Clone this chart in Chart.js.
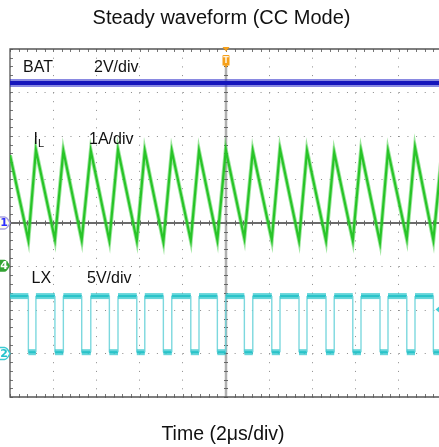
<!DOCTYPE html>
<html>
<head>
<meta charset="utf-8">
<script src="https://cdn.jsdelivr.net/npm/chart.js@4.4.0/dist/chart.umd.min.js"></script>
<style>
  html, body { margin: 0; padding: 0; background: #fff; overflow: hidden; }
  #wrap { position: relative; width: 446px; height: 447px; }
</style>
</head>
<body>
<div id="wrap"><canvas id="scope" width="446" height="447"></canvas></div>
<script>
// time in µs (2 µs/div, trigger at 0), levels in screen divisions (centre = 0)
const valleyTimes  = [-9.15, -7.92, -6.68, -5.40, -4.13, -2.90, -1.63, -0.40, 0.85, 2.12, 3.38, 4.63, 5.87, 7.13, 8.37, 9.60];
const valleyLevels = [-0.39, -0.38, -0.39, -0.40, -0.40, -0.43, -0.40, -0.39, -0.35, -0.39, -0.40, -0.40, -0.40, -0.45, -0.36, -0.39];
const peakTimes    = [-8.80, -7.53, -6.26, -5.00, -3.76, -2.51, -1.25, -0.01, 1.24, 2.50, 3.75, 5.01, 6.25, 7.50, 8.75];
const peakLevels   = [1.68, 1.66, 1.66, 1.68, 1.66, 1.66, 1.66, 1.68, 1.66, 1.70, 1.66, 1.62, 1.66, 1.66, 1.74];
const ilStart = [-10.0, 1.56];
const ilEnd = [10.0, 1.64];

const batTimes = [-10, 10];
const batLevels = [3.22, 3.22];

const lxHigh = -1.68;
const lxLow = -2.97;

// channel reference markers / trigger level (divisions)
const refCh1 = 0;
const refCh4 = -0.98;
const refCh2 = -3.0;
const trigLevel = -1.99;

const channelLabels = [
  { name: 'BAT', scale: '2V/div', level: 3.48 },
  { name: 'I', sub: 'L', scale: '1A/div', level: 1.81 },
  { name: 'LX', scale: '5V/div', level: -1.39 }
];

const batPoints = batTimes.map((t, i) => ({ x: t, y: batLevels[i] }));

const ilPoints = [{ x: ilStart[0], y: ilStart[1] }];
valleyTimes.forEach((t, i) => {
  ilPoints.push({ x: t, y: valleyLevels[i] });
  if (i < peakTimes.length) ilPoints.push({ x: peakTimes[i], y: peakLevels[i] });
});
ilPoints.push({ x: ilEnd[0], y: ilEnd[1] });

// LX falls at each current valley and rises at each peak
const lxPoints = [{ x: -10, y: lxHigh }];
valleyTimes.forEach((t, i) => {
  lxPoints.push({ x: t, y: lxHigh }, { x: t, y: lxLow });
  if (i < peakTimes.length) lxPoints.push({ x: peakTimes[i], y: lxLow }, { x: peakTimes[i], y: lxHigh });
});
lxPoints.push({ x: 10, y: lxLow });

const isEdge = c => Math.abs(c.p0.x - c.p1.x) < 0.5;

function tab(ctx, cy, fill, stroke, text, textColor) {
  ctx.beginPath();
  ctx.moveTo(-4, cy - 6);
  ctx.lineTo(4.5, cy - 6);
  ctx.quadraticCurveTo(7, cy - 6, 10, cy);
  ctx.quadraticCurveTo(7, cy + 6, 4.5, cy + 6);
  ctx.lineTo(-4, cy + 6);
  ctx.closePath();
  ctx.fillStyle = fill;
  ctx.fill();
  if (stroke) { ctx.strokeStyle = stroke; ctx.lineWidth = 1.4; ctx.stroke(); }
  ctx.fillStyle = textColor;
  ctx.font = 'bold 11px "DejaVu Sans", sans-serif';
  ctx.textAlign = 'center';
  ctx.textBaseline = 'middle';
  ctx.fillText(text, 4, cy + 0.5);
}

const scopeFrame = {
  id: 'scopeFrame',
  beforeDatasetsDraw(chart) {
    const { ctx, chartArea: a, scales: { x, y } } = chart;
    const x0 = x.getPixelForValue(0);
    const y0 = y.getPixelForValue(0);
    ctx.save();
    // minor ticks inside the frame, 5 per division
    ctx.strokeStyle = '#777';
    ctx.lineWidth = 1;
    ctx.beginPath();
    for (let v = -10; v <= 10.001; v += 0.4) {
      const px = Math.round(x.getPixelForValue(v)) + 0.5;
      ctx.moveTo(px, a.top); ctx.lineTo(px, a.top + 3);
      ctx.moveTo(px, a.bottom); ctx.lineTo(px, a.bottom - 3);
    }
    for (let v = -4; v <= 4.001; v += 0.2) {
      const py = Math.round(y.getPixelForValue(v)) + 0.5;
      ctx.moveTo(a.left, py); ctx.lineTo(a.left + 3, py);
      ctx.moveTo(a.right, py); ctx.lineTo(a.right - 3, py);
    }
    ctx.stroke();

    // trigger position line
    ctx.strokeStyle = '#b0b0b0';
    ctx.lineWidth = 2.5;
    ctx.beginPath();
    ctx.moveTo(x0, 67); ctx.lineTo(x0, a.bottom);
    ctx.stroke();
    // ch1 reference line
    ctx.strokeStyle = '#6b6b6b';
    ctx.lineWidth = 2;
    ctx.beginPath();
    ctx.moveTo(a.left, y0); ctx.lineTo(a.right, y0);
    ctx.stroke();

    // ticks along centre lines
    ctx.strokeStyle = '#666';
    ctx.lineWidth = 1;
    ctx.beginPath();
    for (let v = -10; v <= 10.001; v += 0.4) {
      const px = Math.round(x.getPixelForValue(v)) + 0.5;
      ctx.moveTo(px, y0 - 2.5); ctx.lineTo(px, y0 + 2.5);
    }
    for (let v = -4; v <= 4.001; v += 0.2) {
      const py = Math.round(y.getPixelForValue(v)) + 0.5;
      ctx.moveTo(x0 - 2, py); ctx.lineTo(x0 + 2, py);
    }
    ctx.stroke();

    // frame
    ctx.strokeStyle = '#555';
    ctx.lineWidth = 1.3;
    ctx.beginPath();
    ctx.moveTo(a.right, a.top);
    ctx.lineTo(a.left, a.top);
    ctx.lineTo(a.left, a.bottom);
    ctx.lineTo(a.right, a.bottom);
    ctx.stroke();
    ctx.restore();
  },
  afterDatasetsDraw(chart) {
    const { ctx, chartArea: a, scales: { x, y } } = chart;
    const x0 = x.getPixelForValue(0);
    ctx.save();

    // channel markers on the left edge
    tab(ctx, y.getPixelForValue(refCh1), '#fffde8', '#a9a2e0', '1', '#2f2fff');
    tab(ctx, y.getPixelForValue(refCh4), '#33a333', null, '4', '#ffffff');
    tab(ctx, y.getPixelForValue(refCh2), '#ffffff', '#3ccbd3', '2', '#22c2cc');

    // trigger level arrow on the right
    const ty = y.getPixelForValue(trigLevel);
    ctx.fillStyle = '#3fcfd7';
    ctx.beginPath();
    ctx.moveTo(435.5, ty);
    ctx.lineTo(441, ty - 4.5);
    ctx.lineTo(441, ty + 4.5);
    ctx.closePath();
    ctx.fill();

    // trigger position marker
    ctx.fillStyle = '#f6a01a';
    ctx.beginPath();
    ctx.moveTo(x0 - 3.5, a.top - 2);
    ctx.lineTo(x0 + 3.5, a.top - 2);
    ctx.lineTo(x0, a.top + 2.5);
    ctx.closePath();
    ctx.fill();
    ctx.beginPath();
    ctx.moveTo(x0 - 3.5, 56);
    ctx.quadraticCurveTo(x0 - 3.5, 55, x0 - 2.5, 55);
    ctx.lineTo(x0 + 2.5, 55);
    ctx.quadraticCurveTo(x0 + 3.5, 55, x0 + 3.5, 56);
    ctx.lineTo(x0 + 3.5, 65.5);
    ctx.lineTo(x0 + 1.5, 65.5);
    ctx.lineTo(x0, 68);
    ctx.lineTo(x0 - 1.5, 65.5);
    ctx.lineTo(x0 - 3.5, 65.5);
    ctx.closePath();
    ctx.fill();
    ctx.fillStyle = '#fff3dc';
    ctx.font = 'bold 8px "DejaVu Sans", sans-serif';
    ctx.textAlign = 'center';
    ctx.textBaseline = 'middle';
    ctx.fillText('T', x0, 60.5);

    // channel labels
    ctx.fillStyle = '#111';
    ctx.textAlign = 'left';
    ctx.textBaseline = 'alphabetic';
    const nameX = [23, 33.5, 31.5];
    const scaleX = [94, 89, 87];
    channelLabels.forEach((c, i) => {
      const by = y.getPixelForValue(c.level);
      ctx.font = '16px "Liberation Sans", Arial, sans-serif';
      ctx.fillText(c.name, nameX[i], by);
      if (c.sub) {
        const w = ctx.measureText(c.name).width;
        ctx.font = '11px "Liberation Sans", Arial, sans-serif';
        ctx.fillText(c.sub, nameX[i] + w, by + 3);
        ctx.font = '16px "Liberation Sans", Arial, sans-serif';
      }
      ctx.fillText(c.scale, scaleX[i], by);
    });

    // titles
    ctx.textAlign = 'center';
    ctx.font = '20px "Liberation Sans", Arial, sans-serif';
    ctx.fillText('Steady waveform (CC Mode)', 221.5, 24);
    ctx.font = '19.5px "Liberation Sans", Arial, sans-serif';
    ctx.fillText('Time (2\u03bcs/div)', 223, 440);
    ctx.restore();
  }
};

const gridStyle = { color: '#8a8a8a', lineWidth: 1, drawTicks: false };

new Chart(document.getElementById('scope'), {
  type: 'line',
  data: {
    datasets: [
      { data: batPoints, borderColor: 'rgba(40,40,200,0.55)', borderWidth: 8 },
      { data: batPoints, borderColor: '#0000ad', borderWidth: 4 },
      { data: ilPoints, borderColor: 'rgba(60,205,60,0.5)', borderWidth: 4 },
      { data: ilPoints, borderColor: '#14bb14', borderWidth: 2.2 },
      {
        data: lxPoints, borderColor: 'rgba(50,200,206,0.75)', borderWidth: 6,
        segment: {
          borderWidth: c => isEdge(c) ? 1.4 : 6,
          borderColor: c => isEdge(c) ? 'rgba(110,212,218,0.9)' : 'rgba(50,200,206,0.75)'
        }
      },
      {
        data: lxPoints, borderColor: '#12b3bb', borderWidth: 2,
        segment: { borderColor: c => isEdge(c) ? 'rgba(0,0,0,0)' : '#12b3bb' }
      }
    ]
  },
  options: {
    responsive: false,
    animation: false,
    parsing: false,
    layout: { padding: { left: 10, top: 49, right: 4, bottom: 50 } },
    elements: { point: { radius: 0, hoverRadius: 0 }, line: { tension: 0 } },
    plugins: { legend: { display: false }, tooltip: { enabled: false }, title: { display: false } },
    events: [],
    scales: {
      x: {
        type: 'linear', min: -10, max: 10,
        afterFit: s => { s.height = 0; },
        ticks: { display: false, stepSize: 2 },
        grid: gridStyle,
        border: { display: false, dash: [1, 7.7] }
      },
      y: {
        type: 'linear', min: -4, max: 4,
        afterFit: s => { s.width = 0; },
        ticks: { display: false, stepSize: 1 },
        grid: gridStyle,
        border: { display: false, dash: [1, 7.64] }
      }
    }
  },
  plugins: [scopeFrame]
});
</script>
</body>
</html>
